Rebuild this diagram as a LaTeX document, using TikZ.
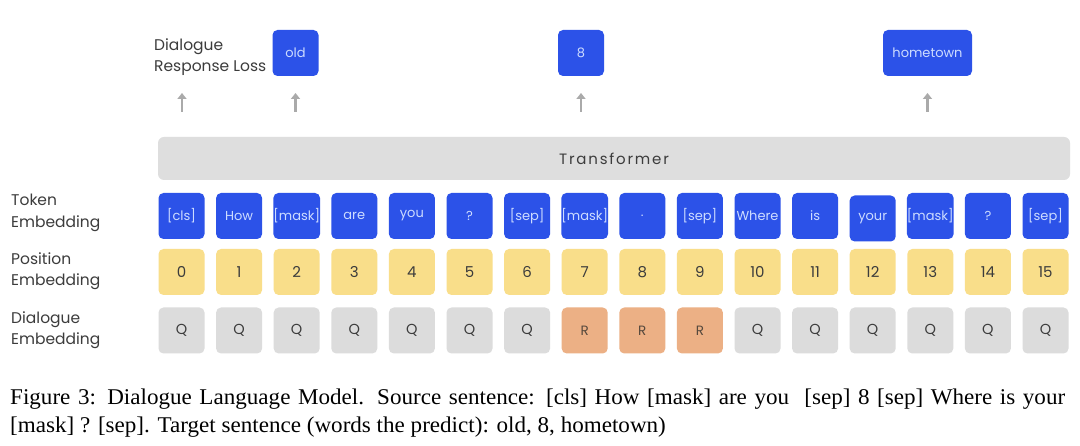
\documentclass[tikz,border=0pt]{standalone}
\usepackage{fontspec}
\setmainfont{Liberation Serif}
\newfontfamily\gothic{Poppins}
\newfontfamily\capfont[FakeStretch=1.026]{Liberation Serif}
\usetikzlibrary{arrows.meta}
\definecolor{tokblue}{RGB}{44,82,232}
\definecolor{tokfg}{RGB}{205,220,255}
\definecolor{posyel}{RGB}{249,222,138}
\definecolor{dlggray}{RGB}{220,220,220}
\definecolor{dlgorg}{RGB}{236,176,133}
\definecolor{barcol}{RGB}{222,222,222}
\definecolor{txtdark}{RGB}{60,60,60}
\definecolor{arrcol}{RGB}{170,170,170}
\tikzset{
  cellbox/.style={rounded corners=5pt, minimum width=46pt, minimum height=46pt, inner sep=0pt, font=\gothic\fontsize{13}{14}\selectfont},
  tokbox/.style={cellbox, fill=tokblue, text=tokfg},
  posbox/.style={cellbox, fill=posyel, text=txtdark, font=\gothic\fontsize{15}{16}\selectfont},
  dqbox/.style={cellbox, fill=dlggray, text=txtdark, font=\gothic\fontsize{14.5}{16}\selectfont},
  drbox/.style={cellbox, fill=dlgorg, text=txtdark!80!brown, font=\gothic\fontsize{13.5}{16}\selectfont},
  rowlabel/.style={anchor=west, align=left, text=txtdark, inner sep=0pt, font=\gothic\fontsize{15.5}{21.5}\selectfont},
  uparrow/.style={draw=arrcol, line width=2.5pt, -{Triangle[width=9pt,length=6pt]}},
  capline/.style={anchor=base west, inner sep=0pt, font=\capfont\fontsize{22.5}{24}\selectfont}
}
\begin{document}
\begin{tikzpicture}[x=1pt,y=-1pt]
\useasboundingbox (0,0) rectangle (1080,446);
\fill[white] (0,0) rectangle (1080,446);
% transformer
\node[rounded corners=6pt, fill=barcol, minimum width=912pt, minimum height=43pt, inner sep=0pt,
      text=txtdark, font=\gothic\fontsize{15}{16}\selectfont\addfontfeature{LetterSpace=12}]
  (tr) at (614,158.5) {Transformer};
% rows
\foreach \t [count=\i from 0] in {{[cls]},How,{[mask]},are,you,?,{[sep]},{[mask]},.,{[sep]},Where,is,your,{[mask]},?,{[sep]}} {
  \pgfmathsetmacro\xx{181.5+57.6*\i}
  \pgfmathsetmacro\yy{\i==12 ? 218.5 : 216}
  \node[tokbox] (t\i) at (\xx,\yy) {\t};
  \node[posbox] (p\i) at (\xx,272) {\i};
}
\foreach \i in {0,...,6,10,11,12,13,14,15} {
  \pgfmathsetmacro\xx{181.5+57.6*\i}
  \node[dqbox] (d\i) at (\xx,330.5) {Q};
}
\foreach \i in {7,8,9} {
  \pgfmathsetmacro\xx{181.5+57.6*\i}
  \node[drbox] (d\i) at (\xx,330.5) {R};
}
% row labels
\node[rowlabel] (lt) at (11,213) {Token\\Embedding};
\node[rowlabel] (lp) at (11,271) {Position\\Embedding};
\node[rowlabel] (ld) at (11,330) {Dialogue\\Embedding};
% outputs
\node[rowlabel] (loss) at (154,57) {Dialogue\\Response Loss};
\node[tokbox] (oold) at (295.5,53) {old};
\node[tokbox] (o8) at (581,53) {8};
\node[tokbox, minimum width=89pt] (ohome) at (927.5,53) {hometown};
% arrows
\coordinate (a1s) at (182,112); \coordinate (a1e) at (182,93);
\coordinate (a2s) at (295.5,112); \coordinate (a2e) at (295.5,93);
\coordinate (a3s) at (581,112); \coordinate (a3e) at (581,93);
\coordinate (a4s) at (927.5,112); \coordinate (a4e) at (927.5,93);
\draw[uparrow] (a1s) -- (a1e);
\draw[uparrow] (a2s) -- (a2e);
\draw[uparrow] (a3s) -- (a3e);
\draw[uparrow] (a4s) -- (a4e);
% caption
\node[capline] (cap1) at (10,405) {\makebox[1055pt][s]{Figure 3: Dialogue Language Model. Source sentence: [cls] How [mask] are you\ \ [sep] 8 [sep] Where is your}};
\node[capline] (cap2) at (10,433) {[mask] ? [sep]. Target sentence (words the predict): old, 8, hometown)};
\end{tikzpicture}
\end{document}
